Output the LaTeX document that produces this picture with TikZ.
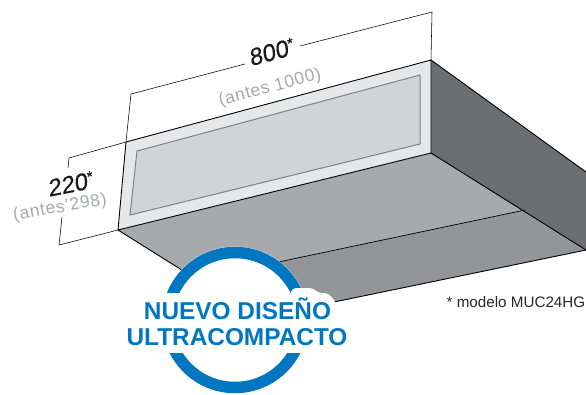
\documentclass[tikz,border=0pt]{standalone}
\usepackage{fontspec}
\setmainfont{Liberation Sans}
\definecolor{frontc}{HTML}{E6E7E8}
\definecolor{innerc}{HTML}{D1D3D4}
\definecolor{innerl}{HTML}{808285}
\definecolor{rightc}{HTML}{6D6E71}
\definecolor{bota}{HTML}{A7A9AC}
\definecolor{botb}{HTML}{939598}
\definecolor{bluec}{HTML}{0077C0}
\definecolor{grayt}{HTML}{A6A8AA}
\tikzset{
 edge/.style={draw=black,line width=0.9pt,line join=round},
 dim/.style={draw=black,line width=0.55pt},
 dimtext/.style={inner sep=0pt,text=black!90,font=\fontsize{24}{24}\selectfont\addfontfeature{FakeSlant=0.14,FakeBold=0.4}},
 oldtext/.style={inner sep=0pt,text=grayt,font=\fontsize{17.5}{18}\selectfont\addfontfeature{LetterSpace=4}},
 bluetext/.style={inner sep=0pt,text=bluec,font=\bfseries\fontsize{24.4}{25}\selectfont}
}
\begin{document}
\begin{tikzpicture}[x=1pt,y=-1pt]
\useasboundingbox (0,0) rectangle (586,394);
\clip (0,0) rectangle (586,394);
% corners
\coordinate (ftl) at (126,142);
\coordinate (ftr) at (431,60);
\coordinate (fbr) at (431,153);
\coordinate (fbl) at (118,230);
\coordinate (rtr) at (586,172);
\coordinate (rbr) at (586,250);
\coordinate (bbl) at (334,302);
\coordinate (bfl) at (260,319);
\coordinate (sa) at (525,210);
\coordinate (sb) at (250,268);
% faces
\fill[bota] (fbl) -- (fbr) -- (rbr) -- (bbl) -- (bfl) -- cycle;
\fill[botb] (sb) -- (sa) -- (rbr) -- (bbl) -- (bfl) -- cycle;
\fill[rightc] (ftr) -- (rtr) -- (rbr) -- (fbr) -- cycle;
\fill[frontc] (ftl) -- (ftr) -- (fbr) -- (fbl) -- cycle;
\draw[fill=innerc,draw=innerl,line width=1pt,line join=miter] (137,151) -- (420,75) -- (420,144) -- (130,215) -- cycle;
% edges
\draw[edge] (fbl) -- (ftl) -- (ftr) -- (fbr) -- cycle;
\draw[edge] (ftr) -- (rtr);
\draw[edge] (fbr) -- (rbr);
\draw[edge] (fbl) -- (bfl);
\draw[edge,line width=0.7pt] (sa) -- (sb);
\draw[edge] (rbr) -- (bbl);
% dimension lines
\coordinate (da) at (131,94);
\coordinate (db) at (245,64);
\coordinate (dc) at (300,46);
\coordinate (dd) at (432,12);
\draw[dim] (ftl) -- (da) -- (db);
\draw[dim] (dc) -- (dd) -- (ftr);
\coordinate (ea) at (69,158);
\coordinate (eb) at (68,168);
\coordinate (ec) at (62,217);
\coordinate (ed) at (59,245);
\draw[dim] (ftl) -- (ea) -- (eb);
\draw[dim] (ec) -- (ed) -- (fbl);
% badge
\fill[white] (235,320) circle (73.5);
\draw[bluec,line width=11.5pt] (235,320) circle (67.5);
\fill[white] (150,293) rectangle (320,353);
\fill[white,rounded corners=4pt] (290,296) -- (292,288) -- (313,288) -- (318,293) -- (328,293) -- (336,302) -- (336,322) -- (290,322) -- cycle;
% texts
\node[dimtext,rotate=15] (t800) at (271,52) {800\raisebox{7pt}{\fontsize{15}{15}\selectfont*}};
\node[oldtext,rotate=15] (told) at (270,88) {(antes 1000)};
\node[dimtext,rotate=11] (t220) at (70,184) {220\raisebox{7pt}{\fontsize{15}{15}\selectfont*}};
\node[oldtext,rotate=10] (t298) at (60,208) {(antes'298)};
\node[bluetext] (tnuevo) at (237.5,308.5) {NUEVO DISEÑO};
\node[bluetext] (tultra) at (237,337.5) {ULTRACOMPACTO};
\node[anchor=west,inner sep=0pt,text=black!85,font=\fontsize{15.2}{16}\selectfont] (tmodel) at (446.5,302) {* modelo MUC24HG};
\end{tikzpicture}
\end{document}
